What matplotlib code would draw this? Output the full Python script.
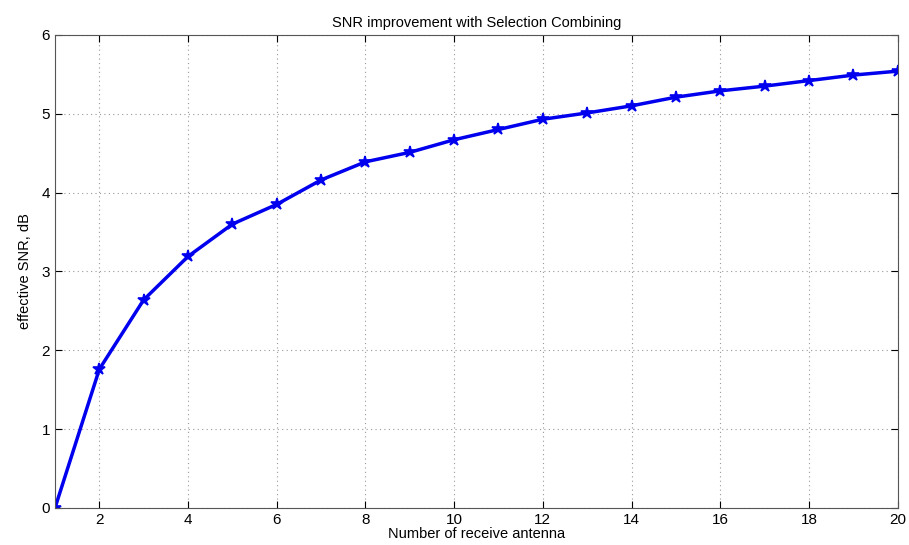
import numpy as np
import matplotlib.pyplot as plt

plt.rcParams['font.family'] = ['Liberation Sans', 'DejaVu Sans']

# number of receive antennas
antennas = list(range(1, 21))
# effective SNR gain (dB)
snr_db = [0, 1.76, 2.64, 3.19, 3.60, 3.85, 4.16, 4.39, 4.51, 4.67,
          4.80, 4.93, 5.01, 5.10, 5.21, 5.29, 5.35, 5.42, 5.49, 5.54]

fig = plt.figure(figsize=(9.09, 5.45), dpi=100)
ax = fig.add_axes([0.0605, 0.068, 0.927, 0.868])

ax.plot(antennas, snr_db, '*-', color='#0000ee', lw=2.5, markersize=9,
        markeredgewidth=1.2)

ax.set_xlim(1, 20)
ax.set_ylim(0, 6)
ax.set_xticks(range(2, 21, 2))
ax.set_yticks(range(0, 7))
ax.grid(True, linestyle=(0, (1, 3)), color='#999999', linewidth=0.8)
ax.tick_params(direction='in', top=True, right=True, labelsize=11, length=5)
for s in ax.spines.values():
    s.set_color('#555555')

ax.set_title('SNR improvement with Selection Combining', fontsize=10.5, pad=6)
ax.set_xlabel('Number of receive antenna', fontsize=10.5, labelpad=0)
ax.set_ylabel('effective SNR, dB', fontsize=10.5, labelpad=7)

fig.savefig('out.png', dpi=100)
